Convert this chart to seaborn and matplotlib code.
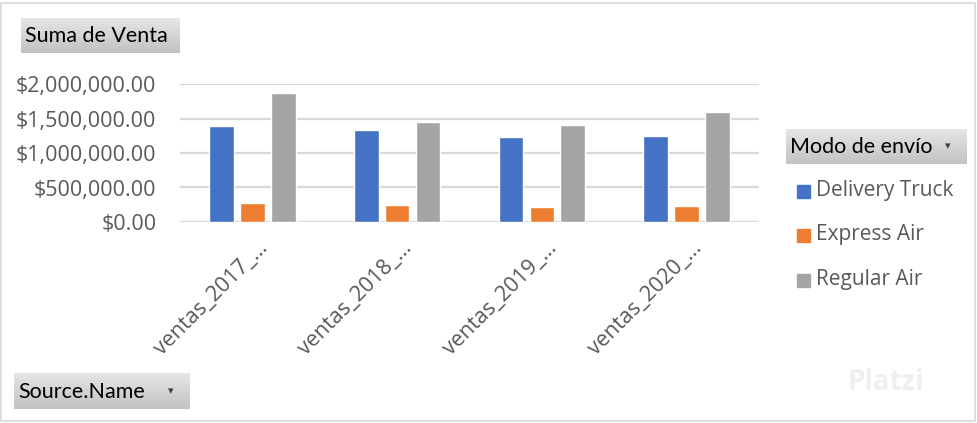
import numpy as np
import pandas as pd
import matplotlib
matplotlib.use("Agg")
import matplotlib.pyplot as plt
import seaborn as sns
from matplotlib.patches import Rectangle
from matplotlib.transforms import ScaledTranslation

# data
sources = ["ventas_2017_…", "ventas_2018_…", "ventas_2019_…", "ventas_2020_…"]
modes = ["Delivery Truck", "Express Air", "Regular Air"]
delivery_truck = [1387000, 1330000, 1228000, 1243000]
express_air = [275000, 246000, 217000, 231000]
regular_air = [1864000, 1445000, 1402000, 1590000]
yticks = [0, 500000, 1000000, 1500000, 2000000]

COLORS = ["#4472C4", "#ED7D31", "#A5A5A5"]
TXT = "#595959"

df = pd.DataFrame({
    "source": sources * 3,
    "mode": [m for m in modes for _ in sources],
    "venta": delivery_truck + express_air + regular_air,
})

sns.set_theme(style="white")
plt.rcParams["font.family"] = ["Open Sans", "DejaVu Sans"]

fig = plt.figure(figsize=(9.78, 4.23), dpi=100)
W, H = 978, 423


def fx(px):
    return px / W


def fy(py):
    return 1 - py / H


ax = fig.add_axes([fx(180), fy(222), fx(759) - fx(180), fy(84) - fy(222)])
sns.barplot(data=df, x="source", y="venta", hue="mode", palette=COLORS,
            width=0.64, gap=0.2, saturation=1, ax=ax, legend=False,
            errorbar=None)

ax.set_ylim(0, 2000000)
ax.set_xlim(-0.5, len(sources) - 0.5)
ax.set_yticks(yticks)
ax.set_yticklabels([f"${v:,.2f}" for v in yticks])
ax.yaxis.grid(True, color="#D9D9D9", linewidth=1.6)
ax.set_axisbelow(True)
for s in ax.spines.values():
    s.set_visible(False)
ax.tick_params(axis="y", length=0, pad=17, labelsize=15.5, labelcolor=TXT)
ax.tick_params(axis="x", length=0, pad=17, labelsize=15.5, labelcolor=TXT)
shift = ScaledTranslation(0.12, 0, fig.dpi_scale_trans)
for lab in ax.get_xticklabels():
    lab.set_rotation(45)
    lab.set_ha("right")
    lab.set_va("center")
    lab.set_rotation_mode("anchor")
    lab.set_transform(lab.get_transform() + shift)
ax.set_xlabel("")
ax.set_ylabel("")


def button(x0, y0, x1, y1, text, size, arrow=False):
    bax = fig.add_axes([fx(x0), fy(y1), fx(x1) - fx(x0), fy(y0) - fy(y1)])
    grad = np.linspace(0.90, 0.76, 50).reshape(-1, 1)
    bax.imshow(grad, cmap="gray", vmin=0, vmax=1, aspect="auto",
               extent=[0, 1, 0, 1], origin="upper")
    bax.set_axis_off()
    bax.text(4 / (x1 - x0), 0.48, text, fontsize=size, color="black",
             va="center", ha="left", family=["Lato", "DejaVu Sans"])
    if arrow:
        bax.text(1 - 19 / (x1 - x0), 0.5, "▾", fontsize=8, color="#404040",
                 va="center", ha="center", family=["DejaVu Sans"])


button(21, 18, 180, 53, "Suma de Venta", 15.5)
button(786, 129, 967, 164, "Modo de envío", 15.5, arrow=True)
button(14, 373, 190, 409, "Source.Name", 15.5, arrow=True)

# legend entries
leg_y = [190, 234, 279]
for m, c, y in zip(modes, COLORS, leg_y):
    fig.patches.append(Rectangle((fx(797), fy(y + 8)), fx(13), 13 / H,
                                 transform=fig.transFigure, color=c))
    fig.text(fx(816), fy(y), m, fontsize=15, color=TXT, va="center",
             ha="left")

# outer chart border
fig.patches.append(Rectangle((fx(1), fy(421)), fx(974), 418 / H,
                             transform=fig.transFigure, fill=False,
                             edgecolor="#D9D9D9", linewidth=1.2))

# faint watermark
fig.text(fx(848), fy(382), "Platzi", fontsize=20, color="#EFEFEF",
         va="center", ha="left", fontweight="bold")

fig.savefig("out.png", dpi=100)
